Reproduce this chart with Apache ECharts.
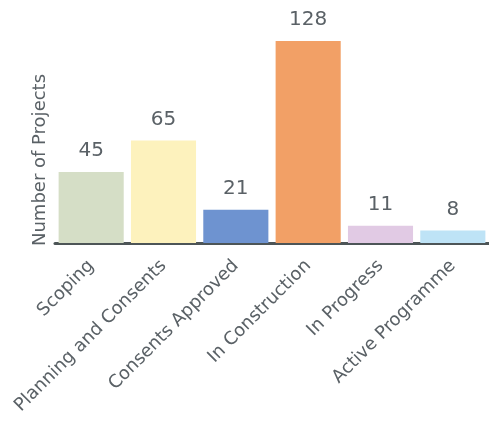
<!DOCTYPE html>
<html><head><meta charset="utf-8">
<script src="https://cdn.jsdelivr.net/npm/echarts@6/dist/echarts.min.js"></script>
<style>html,body{margin:0;padding:0;background:#fff}#c{width:489px;height:421px}</style>
</head><body><div id="c"></div>
<script>
const categories = ['Scoping','Planning and Consents','Consents Approved','In Construction','In Progress','Active Programme'];
const values = [45, 65, 21, 128, 11, 8];
const colors = ['#d5dec6','#fdf2bd','#6e93d0','#f2a066','#e1cae4','#bee3f6'];
const yName = 'Number of Projects';
const font = 'DejaVu Sans';
const chart = echarts.init(document.getElementById('c'));
chart.setOption({
  animation:false,
  grid:{left:55,right:-6,top:41,bottom:178,containLabel:false},
  xAxis:{type:'category',data:categories,
    axisLine:{show:true,lineStyle:{color:'#4d5557',width:3}},
    axisTick:{show:false},
    axisLabel:{rotate:45,interval:0,color:'#5a6166',fontFamily:font,fontSize:18,margin:20}},
  yAxis:{type:'value',min:0,max:128,show:true,
    axisLine:{show:false},axisTick:{show:false},axisLabel:{show:false},splitLine:{show:false},
    name:yName,nameLocation:'middle',nameRotate:90,nameGap:6,
    nameTextStyle:{color:'#5a6166',fontFamily:font,fontSize:18,padding:[0,36,0,0]}},
  series:[{type:'bar',barCategoryGap:'10%',
    data:values.map((v,i)=>({value:v,itemStyle:{color:colors[i]}})),
    label:{show:true,position:'top',distance:11,color:'#5a6166',fontFamily:font,fontSize:20}}]
});
</script></body></html>
